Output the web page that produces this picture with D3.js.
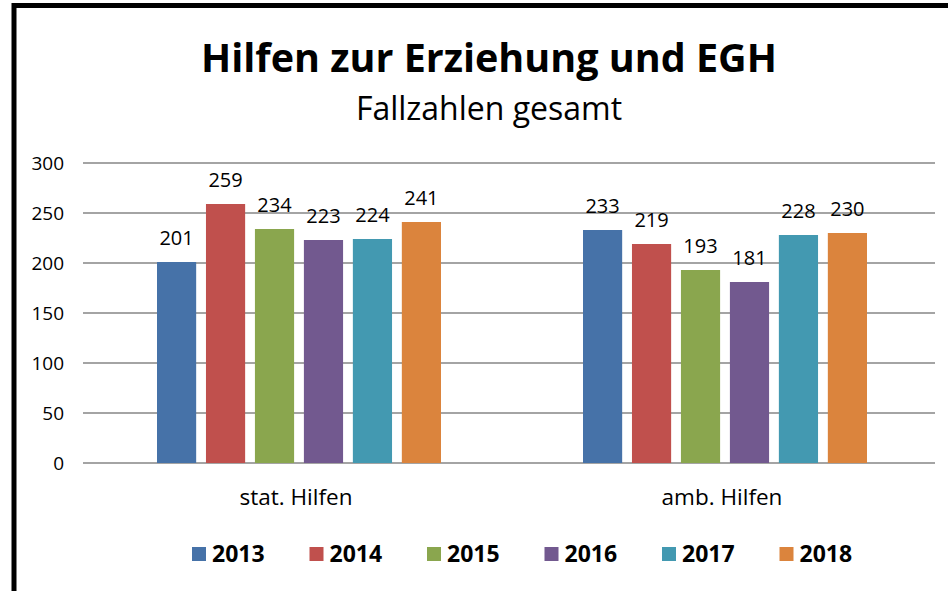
<!DOCTYPE html>
<html><head><meta charset="utf-8">
<script src="https://cdn.jsdelivr.net/npm/d3@7"></script>
<style>body{margin:0;background:#fff}svg{display:block}</style>
</head><body>
<svg id="c" width="948" height="591"></svg>
<script>
const categories = ["stat. Hilfen", "amb. Hilfen"];
const years = ["2013", "2014", "2015", "2016", "2017", "2018"];
const v2013 = [201, 233];
const v2014 = [259, 219];
const v2015 = [234, 193];
const v2016 = [223, 181];
const v2017 = [224, 228];
const v2018 = [241, 230];
const seriesValues = [v2013, v2014, v2015, v2016, v2017, v2018];
const yTicks = [0, 50, 100, 150, 200, 250, 300];
const colors = ["#4672A8", "#C0504D", "#8AA64E", "#72598F", "#4399B1", "#DB843D"];

const font = "'Open Sans', sans-serif";
const svg = d3.select("#c");
svg.append("rect").attr("x",0).attr("y",0).attr("width",948).attr("height",591).attr("fill","#fff");
svg.append("path").attr("d","M14,591 V5.5 H948").attr("fill","none").attr("stroke","#000").attr("stroke-width",5);

svg.append("text").attr("x",489).attr("y",72).attr("text-anchor","middle")
  .attr("font-family",font).attr("font-weight","bold").attr("font-size",39.5).text("Hilfen zur Erziehung und EGH");
svg.append("text").attr("x",489).attr("y",120).attr("text-anchor","middle")
  .attr("font-family",font).attr("font-size",32).text("Fallzahlen gesamt");

const x0 = d3.scaleBand().domain(categories).range([83, 935]).paddingInner(0).paddingOuter(0);
const x1 = d3.scaleBand().domain(years).range([0, 284]).paddingInner(0.2);
const y = d3.scaleLinear().domain([0, 300]).range([463, 163]);

const g = svg.append("g");
g.selectAll("line.grid").data(yTicks).join("line")
  .attr("x1",83).attr("x2",935).attr("y1",d=>y(d)).attr("y2",d=>y(d))
  .attr("stroke","#868686").attr("stroke-width",1.5);
g.selectAll("text.yt").data(yTicks).join("text")
  .attr("x",64).attr("y",d=>y(d)+7).attr("text-anchor","end")
  .attr("font-family",font).attr("font-size",19).text(d=>d);

categories.forEach((c, ci) => {
  const gx = x0(c) + (x0.bandwidth() - 284) / 2 + 3;
  years.forEach((yr, si) => {
    const val = seriesValues[si][ci];
    g.append("rect").attr("x", gx + x1(yr)).attr("y", y(val))
      .attr("width", x1.bandwidth()).attr("height", y(0) - y(val)).attr("fill", colors[si]);
    g.append("text").attr("x", gx + x1(yr) + x1.bandwidth()/2).attr("y", y(val) - 17)
      .attr("text-anchor","middle").attr("font-family",font).attr("font-size",20).text(val);
  });
  g.append("text").attr("x", x0(c) + x0.bandwidth()/2).attr("y", 505).attr("text-anchor","middle")
    .attr("font-family",font).attr("font-size",22.5).text(c);
});

const leg = svg.append("g");
years.forEach((yr, i) => {
  const lx = 192 + i * 117.5;
  leg.append("rect").attr("x", lx).attr("y", 547).attr("width",14).attr("height",14).attr("fill",colors[i]);
  leg.append("text").attr("x", lx + 20).attr("y", 562).attr("font-family",font).attr("font-weight","bold")
    .attr("font-size",23).text(yr);
});
</script>
</body></html>
